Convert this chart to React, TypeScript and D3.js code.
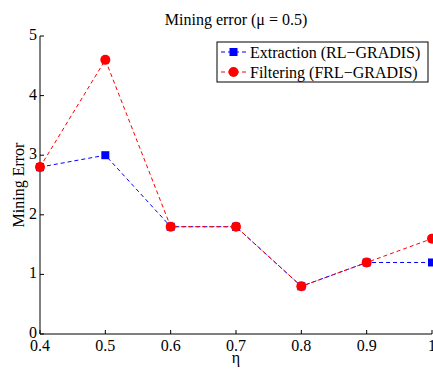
import React from "react";
import * as d3 from "d3";

const etaValues = [0.4, 0.5, 0.6, 0.7, 0.8, 0.9, 1.0];
const extraction = [2.8, 3.0, 1.8, 1.8, 0.8, 1.2, 1.2];
const filtering = [2.8, 4.6, 1.8, 1.8, 0.8, 1.2, 1.6];
const xTicks = [0.4, 0.5, 0.6, 0.7, 0.8, 0.9, 1];
const xTickLabels = ["0.4", "0.5", "0.6", "0.7", "0.8", "0.9", "1"];
const yTicks = [0, 1, 2, 3, 4, 5];
const seriesNames = ["Extraction (RL\u2212GRADIS)", "Filtering (FRL\u2212GRADIS)"];

export default function App() {
  const W = 433, H = 369;
  const left = 40, right = 432, top = 36, bottom = 334;
  const x = d3.scaleLinear().domain([0.4, 1]).range([left, right]);
  const y = d3.scaleLinear().domain([0, 5]).range([bottom, top]);
  const line = d3.line<number>().x((_, i) => x(etaValues[i])).y((d) => y(d));
  const font = "'Liberation Serif', 'Times New Roman', serif";
  const dash = "4,3";
  const fs = 16;
  return (
    <div style={{ position: "absolute", left: 0, top: 0 }}>
      <svg width={W} height={H} style={{ display: "block", background: "#fff" }} fontFamily={font}>
        <text x={236} y={25} textAnchor="middle" fontSize={fs}>Mining error (μ = 0.5)</text>
        {/* axes */}
        <line x1={left} x2={left} y1={top} y2={bottom} stroke="#000" strokeWidth={1} />
        <line x1={left} x2={right} y1={bottom} y2={bottom} stroke="#000" strokeWidth={1} />
        {yTicks.map((t) => (
          <g key={"y" + t}>
            <line x1={left} x2={left + 4} y1={y(t)} y2={y(t)} stroke="#000" />
            <text x={left - 3} y={y(t) + 4} textAnchor="end" fontSize={fs}>{t}</text>
          </g>
        ))}
        {xTicks.map((t, i) => (
          <g key={"x" + t}>
            <line x1={x(t)} x2={x(t)} y1={bottom} y2={bottom - 4} stroke="#000" />
            <text x={x(t)} y={bottom + 17} textAnchor="middle" fontSize={fs}>{xTickLabels[i]}</text>
          </g>
        ))}
        <text x={236} y={363} textAnchor="middle" fontSize={fs}>η</text>
        <text transform={`translate(24,${(top + bottom) / 2}) rotate(-90)`} textAnchor="middle" fontSize={fs}>Mining Error</text>
        {/* series */}
        <path d={line(extraction) || ""} fill="none" stroke="#0000ff" strokeWidth={1} strokeDasharray={dash} />
        <path d={line(filtering) || ""} fill="none" stroke="#ff0000" strokeWidth={1} strokeDasharray={dash} />
        {extraction.map((v, i) => (
          <rect key={"e" + i} x={x(etaValues[i]) - 4} y={y(v) - 4} width={8} height={8} fill="#0000ff" />
        ))}
        {filtering.map((v, i) => (
          <circle key={"f" + i} cx={x(etaValues[i])} cy={y(v)} r={5} fill="#ff0000" />
        ))}
        {/* legend */}
        <rect x={217} y={42} width={211} height={40} fill="#fff" stroke="#000" strokeWidth={1} />
        <line x1={221} x2={246} y1={52} y2={52} stroke="#0000ff" strokeDasharray={dash} />
        <rect x={229.5} y={48} width={8} height={8} fill="#0000ff" />
        <text x={250} y={57.5} fontSize={fs}>{seriesNames[0]}</text>
        <line x1={221} x2={246} y1={72} y2={72} stroke="#ff0000" strokeDasharray={dash} />
        <circle cx={233.5} cy={72} r={5} fill="#ff0000" />
        <text x={250} y={77.5} fontSize={fs}>{seriesNames[1]}</text>
      </svg>
    </div>
  );
}
